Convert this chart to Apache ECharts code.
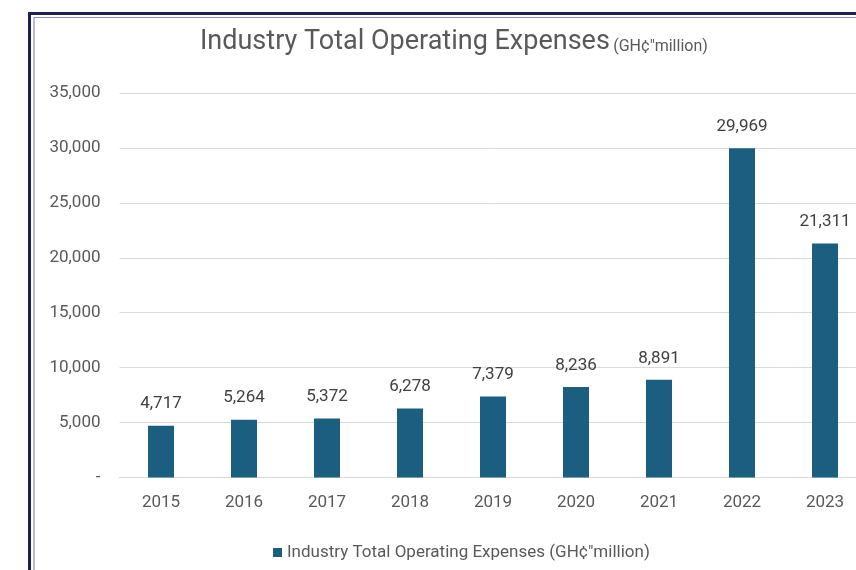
<!DOCTYPE html>
<html>
<head>
<meta charset="utf-8">
<script src="https://cdn.jsdelivr.net/npm/echarts@6/dist/echarts.min.js"></script>
<style>
  html, body { margin: 0; padding: 0; background: #ffffff; }
  #chart { width: 856px; height: 570px; }
</style>
</head>
<body>
<div id="chart"></div>
<script>
// Industry total operating expenses, GH¢ million
const years = ['2015', '2016', '2017', '2018', '2019', '2020', '2021', '2022', '2023'];
const expenses = [4717, 5264, 5372, 6278, 7379, 8236, 8891, 29969, 21311];
const yTicks = [0, 5000, 10000, 15000, 20000, 25000, 30000, 35000];
const seriesName = 'Industry Total Operating Expenses (GH¢"million)';

const fmt = v => v === 0 ? '-' : v.toLocaleString('en-US');

const chart = echarts.init(document.getElementById('chart'), null, { renderer: 'canvas' });

chart.setOption({
  backgroundColor: '#ffffff',
  animation: false,
  textStyle: { fontFamily: 'Roboto, "Noto Sans", sans-serif' },
  graphic: [
    // double-line frame around the chart card
    { type: 'rect', shape: { x: 29.5, y: 13.5, width: 900, height: 600 },
      style: { fill: 'none', stroke: '#1d2150', lineWidth: 3 }, z: 10 },
    { type: 'rect', shape: { x: 34, y: 17.5, width: 900, height: 600 },
      style: { fill: 'none', stroke: '#8a90b8', lineWidth: 1.2 }, z: 10 },
    // title
    { type: 'text', left: 200, top: 29, z: 10,
      style: {
        text: '{a|Industry Total Operating Expenses} {b|(GH¢"million)}',
        rich: {
          a: { fontSize: 27, fill: '#595959', fontFamily: 'Roboto, sans-serif', verticalAlign: 'bottom' },
          b: { fontSize: 16, fill: '#595959', fontFamily: 'Roboto, sans-serif', verticalAlign: 'bottom', padding: [0, 0, 1, 0] }
        }
      } }
  ],
  legend: {
    top: 539,
    left: 268,
    itemWidth: 9,
    itemHeight: 9,
    icon: 'rect',
    textStyle: { color: '#595959', fontSize: 17, fontFamily: 'Roboto, sans-serif' },
    data: [seriesName]
  },
  grid: {
    left: 119.5, width: 747, top: 93, height: 384.5,
    containLabel: false,
    outerBoundsMode: 'none'
  },
  xAxis: {
    type: 'category',
    data: years,
    axisLine: { lineStyle: { color: '#d9d9d9', width: 1 } },
    axisTick: { show: false },
    axisLabel: { color: '#595959', fontSize: 17, margin: 17 }
  },
  yAxis: {
    type: 'value',
    min: 0,
    max: 35000,
    interval: 5000,
    axisLine: { show: false },
    axisTick: { show: false },
    splitLine: { lineStyle: { color: '#d9d9d9', width: 1 } },
    axisLabel: {
      color: '#595959', fontSize: 17, margin: 19,
      formatter: v => yTicks.includes(v) ? fmt(v) : ''
    }
  },
  series: [{
    name: seriesName,
    type: 'bar',
    data: expenses,
    barWidth: 26,
    itemStyle: { color: '#1b5e80' },
    label: {
      show: true,
      position: 'top',
      distance: 13,
      color: '#404040',
      fontSize: 17,
      formatter: p => fmt(p.value)
    }
  }]
});
</script>
</body>
</html>
